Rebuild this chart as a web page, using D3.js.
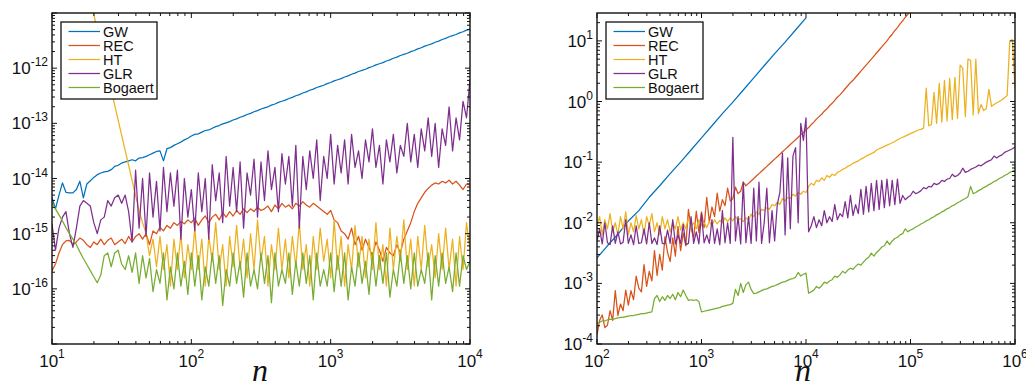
<!DOCTYPE html>
<html><head><meta charset="utf-8">
<script src="https://cdn.jsdelivr.net/npm/d3@7"></script>
<style>body{margin:0;background:#fff}svg{display:block}</style>
</head><body>
<svg id="c" width="1026" height="387"></svg>
<script>
const seriesNames = ["GW","REC","HT","GLR","Bogaert"];
const seriesColors = ["#0072BD","#D95319","#EDB120","#7E2F8E","#77AC30"];

// ---------- LEFT PANEL (values are log10 of the error) ----------
const leftN = [
10,10.59,11.22,11.89,12.59,13.34,14.13,14.96,15.85,16.79,
17.78,18.84,19.95,21.13,22.39,23.71,25.12,26.61,28.18,29.85,
31.62,33.5,35.48,37.58,39.81,42.17,44.67,47.32,50.12,53.09,
56.23,59.57,63.1,66.83,70.79,74.99,79.43,84.14,89.13,94.41,
100,105.9,112.2,118.9,125.9,133.4,141.3,149.6,158.5,167.9,
177.8,188.4,199.5,211.3,223.9,237.1,251.2,266.1,281.8,298.5,
316.2,335,354.8,375.8,398.1,421.7,446.7,473.2,501.2,530.9,
562.3,595.7,631,668.3,707.9,749.9,794.3,841.4,891.3,944.1,
1000,1059,1122,1189,1259,1334,1413,1496,1585,1679,
1778,1884,1995,2113,2239,2371,2512,2661,2818,2985,
3162,3350,3548,3758,3981,4217,4467,4732,5012,5309,
5623,5957,6310,6683,7079,7499,7943,8414,8913,9441,
10000];
const leftGW = [
-14.35,-14.55,-14.3,-14.08,-14.25,-14.26,-14.26,-14.2,-14.05,-14.35,
-14.1,-14.04,-13.98,-13.93,-13.9,-13.88,-13.87,-13.84,-13.78,-13.76,
-13.72,-13.7,-13.68,-13.66,-13.68,-13.63,-13.62,-13.6,-13.57,-13.54,
-13.51,-13.5,-13.68,-13.46,-13.44,-13.4,-13.37,-13.34,-13.3,-13.27,
-13.23,-13.2,-13.19,-13.16,-13.13,-13.12,-13.09,-13.06,-13.04,-13.01,
-12.99,-12.97,-12.94,-12.92,-12.89,-12.87,-12.84,-12.82,-12.79,-12.77,
-12.74,-12.72,-12.7,-12.67,-12.65,-12.62,-12.6,-12.58,-12.55,-12.53,
-12.5,-12.48,-12.45,-12.43,-12.4,-12.38,-12.35,-12.33,-12.31,-12.28,
-12.26,-12.23,-12.21,-12.19,-12.16,-12.14,-12.11,-12.09,-12.06,-12.04,
-12.02,-11.99,-11.97,-11.94,-11.92,-11.9,-11.87,-11.85,-11.82,-11.8,
-11.77,-11.75,-11.73,-11.7,-11.68,-11.65,-11.63,-11.6,-11.58,-11.56,
-11.53,-11.51,-11.48,-11.46,-11.43,-11.41,-11.39,-11.36,-11.34,-11.31,
-11.29];
const leftREC = [
-15.67,-15.55,-15.35,-15.2,-15.13,-15.12,-15.2,-15.15,-15.08,-15.12,
-15.2,-15.25,-15.15,-15.2,-15.1,-15.2,-15.12,-15.08,-15.2,-15.15,
-15.1,-15.18,-15.05,-15.15,-15.05,-15.0,-15.1,-15.0,-15.2,-14.95,
-15.0,-14.88,-14.95,-14.85,-14.9,-14.8,-14.85,-14.78,-14.82,-14.75,
-14.8,-14.72,-14.85,-14.75,-14.68,-14.8,-14.7,-14.65,-14.75,-14.62,
-14.7,-14.6,-14.68,-14.58,-14.65,-14.55,-14.62,-14.55,-14.6,-14.52,
-14.58,-14.55,-14.5,-14.6,-14.48,-14.55,-14.45,-14.52,-14.48,-14.55,
-14.45,-14.5,-14.42,-14.48,-14.52,-14.45,-14.5,-14.55,-14.6,-14.65,
-14.58,-14.75,-14.8,-14.95,-15.0,-15.1,-14.9,-15.2,-15.05,-15.3,
-15.1,-15.25,-15.4,-15.15,-15.3,-15.5,-15.25,-15.35,-15.4,-15.2,
-15.35,-15.1,-14.95,-14.8,-14.6,-14.45,-14.35,-14.25,-14.18,-14.12,
-14.08,-14.1,-14.05,-14.08,-14.03,-14.1,-14.05,-14.12,-14.2,-14.1,
-14.12];
const leftHT = [
-7.75,-8.02,-8.3,-8.57,-8.84,-9.12,-9.39,-9.66,-9.94,-10.21,
-10.48,-10.76,-11.03,-11.3,-11.58,-11.85,-12.12,-12.4,-12.67,-12.94,
-13.22,-13.49,-13.76,-14.04,-14.31,-14.58,-14.8,-15.0,-15.4,-15.1,
-15.6,-15.05,-15.65,-15.2,-15.95,-15.1,-15.65,-15.0,-15.8,-15.2,
-15.65,-14.9,-15.65,-15.1,-15.95,-15.05,-15.5,-14.8,-15.65,-15.2,
-15.95,-15.05,-15.6,-14.85,-15.65,-15.1,-15.8,-15.0,-15.65,-14.75,
-15.5,-15.05,-15.95,-15.2,-15.65,-14.9,-15.65,-15.1,-15.8,-15.05,
-15.6,-14.8,-15.65,-15.2,-15.95,-15.05,-15.65,-14.9,-15.5,-15.1,
-15.8,-14.75,-15.65,-15.05,-15.95,-15.2,-15.65,-14.85,-15.6,-15.05,
-15.8,-15.1,-15.65,-14.8,-15.65,-15.2,-15.95,-14.9,-15.65,-15.05,
-15.5,-14.75,-15.65,-15.1,-15.95,-15.05,-15.65,-14.85,-15.6,-15.2,
-15.8,-15.0,-15.65,-14.9,-15.65,-15.1,-15.95,-15.05,-15.65,-14.8,
-15.3];
const leftGLR = [
-14.82,-15.3,-14.9,-14.7,-14.6,-15.0,-15.25,-14.9,-14.5,-14.4,
-14.45,-14.5,-14.8,-15.0,-14.75,-14.7,-14.4,-14.5,-14.35,-14.3,
-14.45,-14.3,-14.6,-15.15,-13.85,-14.9,-14.0,-15.05,-13.9,-14.7,
-14.05,-14.95,-13.8,-14.6,-13.9,-14.5,-13.85,-15.1,-14.0,-14.7,
-14.2,-14.95,-13.9,-14.6,-14.0,-15.1,-13.75,-14.4,-13.9,-14.8,
-13.6,-14.5,-13.8,-14.6,-13.7,-14.9,-13.9,-14.3,-13.65,-14.7,
-13.7,-14.4,-13.5,-14.2,-13.8,-14.6,-13.55,-14.1,-13.6,-14.5,
-13.4,-14.9,-13.6,-14.2,-13.5,-14.0,-13.3,-14.4,-13.6,-14.0,
-13.2,-14.1,-13.4,-13.9,-13.3,-14.1,-13.2,-13.8,-13.5,-14.0,
-13.3,-13.7,-13.1,-13.8,-13.4,-14.1,-13.3,-13.7,-13.2,-13.9,
-13.4,-13.6,-13.0,-13.7,-13.2,-13.8,-13.1,-13.5,-12.9,-13.6,
-13.0,-13.8,-13.1,-13.4,-12.7,-13.5,-12.9,-13.3,-12.6,-12.9,
-12.2];
const leftBog = [
-14.44,-14.55,-14.66,-14.77,-14.89,-15.0,-15.1,-15.2,-15.33,-15.45,
-15.56,-15.67,-15.78,-15.89,-15.75,-15.4,-15.35,-15.6,-15.35,-15.3,
-15.55,-15.65,-15.4,-15.7,-15.35,-15.9,-15.4,-15.8,-15.45,-16.05,
-15.65,-15.9,-15.35,-16.2,-15.6,-16.0,-15.35,-15.95,-15.5,-16.1,
-15.35,-15.95,-15.4,-16.2,-15.6,-15.95,-15.35,-15.9,-15.4,-16.3,
-15.65,-15.95,-15.35,-15.9,-15.5,-16.15,-15.35,-15.95,-15.65,-16.0,
-15.35,-15.9,-15.4,-16.25,-15.35,-15.95,-15.65,-15.9,-15.35,-16.1,
-15.5,-15.95,-15.35,-15.9,-15.4,-16.2,-15.35,-15.95,-15.65,-15.95,
-15.35,-16.05,-15.4,-15.95,-15.35,-16.2,-15.6,-15.95,-15.35,-15.9,
-15.5,-16.1,-15.35,-15.95,-15.4,-15.9,-15.35,-16.15,-15.65,-15.95,
-15.35,-15.9,-15.4,-16.0,-15.35,-15.95,-15.65,-15.9,-15.35,-16.2,
-15.4,-15.95,-15.35,-15.9,-15.6,-16.05,-15.35,-15.95,-15.4,-15.65,
-15.5];
const leftXTickExp = [1,2,3,4];
const leftYTickExp = [-16,-15,-14,-13,-12];

// ---------- RIGHT PANEL (values are log10 of the error) ----------
const rightN = [
100,105.9,112.2,118.9,125.9,133.4,141.3,149.6,158.5,167.9,
177.8,188.4,199.5,211.3,223.9,237.1,251.2,266.1,281.8,298.5,
316.2,335,354.8,375.8,398.1,421.7,446.7,473.2,501.2,530.9,
562.3,595.7,631,668.3,707.9,749.9,794.3,841.4,891.3,944.1,
1000,1059,1122,1189,1259,1334,1413,1496,1585,1679,
1778,1884,1995,2113,2239,2371,2512,2661,2818,2985,
3162,3350,3548,3758,3981,4217,4467,4732,5012,5309,
5623,5957,6310,6683,7079,7499,7943,8414,8913,9441,
1e4,1.059e4,1.122e4,1.189e4,1.259e4,1.334e4,1.413e4,1.496e4,1.585e4,1.679e4,
1.778e4,1.884e4,1.995e4,2.113e4,2.239e4,2.371e4,2.512e4,2.661e4,2.818e4,2.985e4,
3.162e4,3.35e4,3.548e4,3.758e4,3.981e4,4.217e4,4.467e4,4.732e4,5.012e4,5.309e4,
5.623e4,5.957e4,6.31e4,6.683e4,7.079e4,7.499e4,7.943e4,8.414e4,8.913e4,9.441e4,
1e5,1.059e5,1.122e5,1.189e5,1.259e5,1.334e5,1.413e5,1.496e5,1.585e5,1.679e5,
1.778e5,1.884e5,1.995e5,2.113e5,2.239e5,2.371e5,2.512e5,2.661e5,2.818e5,2.985e5,
3.162e5,3.35e5,3.548e5,3.758e5,3.981e5,4.217e5,4.467e5,4.732e5,5.012e5,5.309e5,
5.623e5,5.957e5,6.31e5,6.683e5,7.079e5,7.499e5,7.943e5,8.414e5,8.913e5,9.441e5,
1e6];
const rightGWN = [100,125.9,158.5,199.5,251.2,316.2,398.1,501.2,631,794.3,1000,1259,1585,1995,2512,3162,3981,5012,6310,7943,10000];
const rightGW = [-2.58,-2.38,-2.19,-1.97,-1.8,-1.58,-1.39,-1.19,-1.0,-0.8,-0.6,-0.4,-0.2,-0.01,0.19,0.39,0.59,0.79,0.98,1.18,1.38];
const rightREC = [
-3.85,-3.61,-3.52,-3.73,-3.69,-3.45,-3.61,-3.12,-3.53,-3.34,
-3.45,-3.11,-3.36,-3.12,-3.27,-2.88,-3.08,-3.14,-2.69,-3.05,
-2.8,-2.96,-2.46,-2.87,-2.52,-2.78,-2.23,-2.49,-2.64,-2.25,
-2.55,-2.06,-2.46,-2.17,-2.38,-1.78,-2.09,-2.25,-1.81,-2.16,
-1.82,-2.08,-1.58,-1.99,-1.74,-1.9,-1.51,-1.81,-1.62,-1.72,
-1.43,-1.64,-1.6,-1.41,-1.52,-1.48,-1.33,-1.39,-1.35,-1.31,
-1.27,-1.23,-1.19,-1.15,-1.11,-1.07,-1.03,-0.99,-0.95,-0.91,
-0.87,-0.83,-0.79,-0.75,-0.71,-0.67,-0.63,-0.59,-0.55,-0.51,
-0.47,-0.43,-0.38,-0.34,-0.29,-0.25,-0.21,-0.16,-0.12,-0.07,
-0.03,0.02,0.07,0.11,0.16,0.21,0.26,0.31,0.35,0.4,
0.45,0.5,0.55,0.6,0.65,0.7,0.75,0.8,0.85,0.9,
0.95,1.0,1.06,1.11,1.17,1.22,1.28,1.33,1.39,1.44,
1.5];
const rightHT = [
-2.05,-1.9,-2.2,-1.95,-2.1,-1.85,-2.15,-2.0,-2.2,-1.9,
-2.1,-1.82,-2.2,-2.0,-2.15,-1.88,-2.1,-1.95,-2.2,-1.9,
-2.05,-1.85,-2.15,-2.0,-2.2,-1.9,-2.1,-1.95,-2.15,-2.0,
-2.1,-1.9,-2.12,-2.0,-2.1,-1.92,-2.08,-2.0,-2.1,-1.95,
-2.05,-2.0,-2.08,-1.98,-2.05,-1.95,-2.02,-1.96,-2.0,-1.92,
-1.98,-1.92,-1.97,-1.9,-1.96,-1.93,-1.98,-1.92,-1.95,-1.86,
-1.9,-1.82,-1.86,-1.78,-1.8,-1.75,-1.78,-1.7,-1.72,-1.66,
-1.7,-1.6,-1.64,-1.58,-1.6,-1.53,-1.56,-1.5,-1.53,-1.48,
-1.5,-1.4,-1.35,-1.38,-1.3,-1.32,-1.26,-1.3,-1.22,-1.25,
-1.2,-1.22,-1.17,-1.15,-1.12,-1.1,-1.07,-1.05,-1.02,-1.0,
-0.98,-0.95,-0.93,-0.9,-0.88,-0.86,-0.84,-0.8,-0.78,-0.76,
-0.74,-0.72,-0.7,-0.68,-0.66,-0.63,-0.61,-0.59,-0.57,-0.55,
-0.53,-0.51,-0.49,-0.47,-0.46,-0.44,0.22,-0.4,-0.38,0.15,
-0.36,0.3,-0.34,0.35,-0.32,0.38,-0.3,0.4,-0.28,0.6,
0.55,-0.25,0.7,0.68,-0.22,0.7,-0.2,-0.05,-0.15,-0.12,
0.2,-0.08,-0.05,-0.02,0.0,0.03,0.06,0.1,1.0,1.02,
0.22];
const rightGLR = [
-2.3,-2.1,-2.35,-2.0,-2.33,-2.36,-2.05,-2.34,-2.15,-2.35,
-2.32,-1.95,-2.34,-2.2,-2.36,-2.05,-2.34,-2.33,-2.1,-2.35,
-2.0,-2.34,-2.25,-2.36,-2.05,-2.34,-2.35,-2.12,-2.34,-1.95,
-2.35,-2.2,-2.34,-2.03,-2.36,-2.34,-1.9,-2.34,-2.15,-2.35,
-1.85,-2.33,-2.2,-2.34,-1.95,-2.34,-2.1,-2.36,-1.8,-2.33,
-2.0,-2.34,-0.59,-2.3,-1.9,-2.35,-1.33,-2.33,-1.9,-2.34,
-1.43,-2.3,-1.33,-2.34,-2.0,-1.43,-2.33,-1.8,-2.3,-1.7,
-1.5,-0.85,-2.2,-0.93,-2.1,-0.9,-0.76,-2.0,-0.36,-0.64,
-0.27,-2.15,-2.05,-1.9,-2.08,-1.95,-2.05,-1.8,-2.0,-1.9,
-1.98,-1.7,-1.95,-1.85,-1.9,-1.65,-1.92,-1.55,-1.88,-1.7,
-1.85,-1.45,-1.86,-1.4,-1.82,-1.35,-1.8,-1.3,-1.78,-1.3,
-1.75,-1.28,-1.72,-1.3,-1.7,-1.28,-1.68,-1.55,-1.62,-1.58,
-1.55,-1.48,-1.52,-1.5,-1.47,-1.42,-1.44,-1.4,-1.41,-1.35,
-1.37,-1.35,-1.3,-1.32,-1.28,-1.27,-1.2,-1.24,-1.22,-1.18,
-1.1,-1.17,-1.15,-1.12,-1.1,-1.08,-1.05,-1.06,-1.03,-1.0,
-0.98,-0.96,-0.9,-0.93,-0.9,-0.88,-0.84,-0.82,-0.8,-0.78,
-0.75];
const rightBog = [
-3.66,-3.64,-3.62,-3.62,-3.6,-3.59,-3.6,-3.58,-3.57,-3.56,
-3.56,-3.55,-3.54,-3.53,-3.53,-3.52,-3.51,-3.5,-3.5,-3.49,
-3.48,-3.47,-3.25,-3.2,-3.3,-3.22,-3.28,-3.2,-3.25,-3.18,
-3.27,-3.15,-3.22,-3.11,-3.2,-3.28,-3.27,-3.28,-3.27,-3.3,
-3.47,-3.46,-3.45,-3.44,-3.43,-3.42,-3.41,-3.4,-3.38,-3.37,
-3.36,-3.35,-3.33,-3.1,-3.2,-3.0,-3.15,-3.02,-2.98,-3.1,
-3.17,-3.16,-3.14,-3.12,-3.1,-3.09,-3.07,-3.05,-3.04,-3.02,
-3.0,-2.98,-2.97,-2.95,-2.93,-2.92,-2.9,-2.82,-2.88,-2.85,
-2.83,-3.16,-3.14,-3.11,-3.05,-3.08,-3.04,-2.98,-3.0,-2.96,
-2.94,-2.88,-2.9,-2.86,-2.8,-2.83,-2.78,-2.75,-2.77,-2.72,
-2.68,-2.7,-2.65,-2.6,-2.57,-2.5,-2.55,-2.49,-2.45,-2.4,
-2.38,-2.3,-2.36,-2.3,-2.26,-2.24,-2.2,-2.18,-2.1,-2.15,
-2.12,-2.1,-2.07,-2.05,-2.02,-2.0,-1.97,-1.95,-1.92,-1.9,
-1.87,-1.85,-1.82,-1.8,-1.77,-1.75,-1.72,-1.7,-1.67,-1.65,
-1.62,-1.6,-1.57,-1.4,-1.52,-1.5,-1.47,-1.45,-1.42,-1.4,
-1.37,-1.35,-1.32,-1.3,-1.27,-1.25,-1.22,-1.2,-1.17,-1.15,
-1.13];
const rightXTickExp = [2,3,4,5,6];
const rightYTickExp = [-4,-3,-2,-1,0,1];

const FONT = "'Liberation Sans', Arial, Helvetica, sans-serif";
const svg = d3.select("#c");

function drawPanel(cfg) {
  const x = d3.scaleLog().domain(cfg.xDomain).range([cfg.left, cfg.right]);
  const y = d3.scaleLog().domain(cfg.yDomain).range([cfg.bottom, cfg.top]);
  const g = svg.append("g");
  const clipId = "clip" + cfg.id;
  svg.append("clipPath").attr("id", clipId).append("rect")
    .attr("x", cfg.left).attr("y", cfg.top)
    .attr("width", cfg.right - cfg.left).attr("height", cfg.bottom - cfg.top);
  const lg = g.append("g").attr("clip-path", `url(#${clipId})`);
  const line = d3.line().x(d => x(d[0])).y(d => y(d[1]));
  cfg.series.forEach((s, i) => {
    const pts = s.log.map((v, k) => [s.n[k], Math.pow(10, v)]);
    lg.append("path").attr("d", line(pts)).attr("fill", "none")
      .attr("stroke", seriesColors[i]).attr("stroke-width", 1.25)
      .attr("stroke-linejoin", "round");
  });
  const isMajor = t => Math.abs(Math.log10(t) - Math.round(Math.log10(t))) < 1e-6;
  const tg = g.append("g").attr("stroke", "#111").attr("stroke-width", 1);
  x.ticks().forEach(t => {
    const px = x(t), L = isMajor(t) ? 5 : 3;
    tg.append("line").attr("x1", px).attr("x2", px).attr("y1", cfg.bottom).attr("y2", cfg.bottom - L);
    tg.append("line").attr("x1", px).attr("x2", px).attr("y1", cfg.top).attr("y2", cfg.top + L);
  });
  y.ticks().forEach(t => {
    const py = y(t), L = isMajor(t) ? 5 : 3;
    tg.append("line").attr("y1", py).attr("y2", py).attr("x1", cfg.left).attr("x2", cfg.left + L);
    tg.append("line").attr("y1", py).attr("y2", py).attr("x1", cfg.right).attr("x2", cfg.right - L);
  });
  g.append("rect").attr("x", cfg.left).attr("y", cfg.top)
    .attr("width", cfg.right - cfg.left).attr("height", cfg.bottom - cfg.top)
    .attr("fill", "none").attr("stroke", "#111").attr("stroke-width", 1.4);
  // tick labels
  cfg.xTickExp.forEach(e => {
    const t = g.append("text").attr("x", x(Math.pow(10, e))).attr("y", cfg.bottom + 23)
      .attr("text-anchor", "middle").attr("font-family", FONT).attr("font-size", 17).attr("fill", "#111");
    t.append("tspan").text("10");
    t.append("tspan").attr("dy", -9).attr("font-size", 12).text(String(e));
  });
  cfg.yTickExp.forEach(e => {
    const t = g.append("text").attr("x", cfg.left - 4).attr("y", y(Math.pow(10, e)) + 6)
      .attr("text-anchor", "end").attr("font-family", FONT).attr("font-size", 17).attr("fill", "#111");
    t.append("tspan").text("10");
    t.append("tspan").attr("dy", -8).attr("font-size", 12).text(String(e));
  });
  // axis label
  g.append("text").attr("x", (cfg.left + cfg.right) / 2 + cfg.labelShift).attr("y", 381)
    .attr("text-anchor", "middle").attr("font-family", "'Liberation Serif', 'DejaVu Serif', serif")
    .attr("font-style", "italic").attr("font-size", 32).attr("fill", "#111").text("n");
  // legend
  const lgd = g.append("g");
  lgd.append("rect").attr("x", cfg.legX).attr("y", 22).attr("width", cfg.legW).attr("height", 77)
    .attr("fill", "#fff").attr("stroke", "#111").attr("stroke-width", 1.3);
  seriesNames.forEach((name, i) => {
    const cy = 31.5 + 14 * i;
    lgd.append("line").attr("x1", cfg.legX + 7.5).attr("x2", cfg.legX + 39).attr("y1", cy).attr("y2", cy)
      .attr("stroke", seriesColors[i]).attr("stroke-width", 1.25);
    lgd.append("text").attr("x", cfg.legX + 42).attr("y", cy + 5).attr("font-family", FONT)
      .attr("font-size", 14.5).attr("fill", "#111").text(name);
  });
}

drawPanel({
  id: "L", left: 52, right: 470, top: 13, bottom: 344,
  xDomain: [10, 1e4], yDomain: [1e-17, 1e-11],
  xTickExp: leftXTickExp, yTickExp: leftYTickExp,
  labelShift: -1, legX: 61, legW: 96,
  series: [
    {n: leftN, log: leftGW}, {n: leftN, log: leftREC}, {n: leftN, log: leftHT},
    {n: leftN, log: leftGLR}, {n: leftN, log: leftBog}
  ]
});
drawPanel({
  id: "R", left: 597, right: 1015, top: 13, bottom: 344,
  xDomain: [100, 1e6], yDomain: [1e-4, Math.pow(10, 1.46)],
  xTickExp: rightXTickExp, yTickExp: rightYTickExp,
  labelShift: -3, legX: 606, legW: 97,
  series: [
    {n: rightGWN, log: rightGW}, {n: rightN.slice(0, rightREC.length), log: rightREC},
    {n: rightN, log: rightHT}, {n: rightN, log: rightGLR}, {n: rightN, log: rightBog}
  ]
});
</script>
</body></html>
